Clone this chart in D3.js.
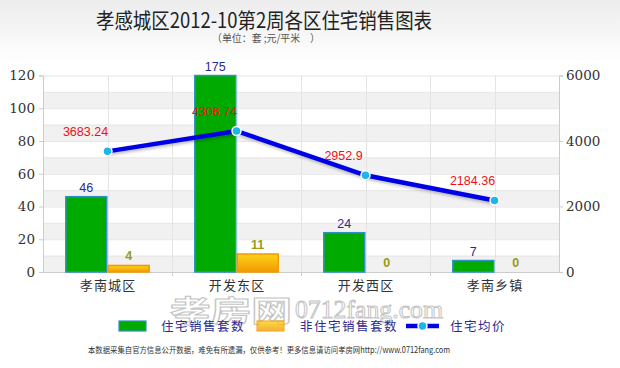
<!DOCTYPE html>
<html lang="zh">
<head>
<meta charset="utf-8">
<title>孝感城区住宅销售图表</title>
<script src="https://d3js.org/d3.v7.min.js"></script>
<style>
  html, body { margin: 0; padding: 0; background: #fff; }
  svg { display: block; }
</style>
</head>
<body>
<svg id="chart"></svg>
<script>
// data
const categories = ["孝南城区", "开发东区", "开发西区", "孝南乡镇"];
const residentialSets = [46, 175, 24, 7];
const nonResidentialSets = [4, 11, 0, 0];
const avgPrice = [3683.24, 4306.74, 2952.9, 2184.36];
const leftTicks = [0, 20, 40, 60, 80, 100, 120];
const rightTicks = [0, 2000, 4000, 6000];
const legendNames = ["住宅销售套数", "非住宅销售套数", "住宅均价"];

const W = 620, H = 368;
const margin = {top: 75.5, right: 61, bottom: 96, left: 43};
const cjk = "'Noto Sans CJK SC', sans-serif";
const serif = "'DejaVu Serif', serif";

const svg = d3.select("#chart").attr("width", W).attr("height", H);
const defs = svg.append("defs");

// header gradient
const hg = defs.append("linearGradient").attr("id", "hdr").attr("x1", 0).attr("y1", 0).attr("x2", 0).attr("y2", 1);
hg.append("stop").attr("offset", "0%").attr("stop-color", "#ececec");
hg.append("stop").attr("offset", "100%").attr("stop-color", "#ffffff");
svg.append("rect").attr("width", W).attr("height", 62).attr("fill", "url(#hdr)");

const og = defs.append("linearGradient").attr("id", "orange").attr("x1", 0).attr("y1", 0).attr("x2", 0).attr("y2", 1);
og.append("stop").attr("offset", "0%").attr("stop-color", "#ffd21a");
og.append("stop").attr("offset", "100%").attr("stop-color", "#f09a00");

const shadow = defs.append("filter").attr("id", "shadow").attr("x", "-10%").attr("y", "-30%").attr("width", "120%").attr("height", "160%");
shadow.append("feDropShadow").attr("dx", 1).attr("dy", 2).attr("stdDeviation", 1.5).attr("flood-color", "#000").attr("flood-opacity", 0.25);

// title
svg.append("text").attr("x", 264).attr("y", 28)
  .attr("text-anchor", "middle")
  .style("font-family", cjk).attr("font-size", 21).attr("fill", "#222")
  .attr("textLength", 336).attr("lengthAdjust", "spacingAndGlyphs")
  .text("孝感城区2012-10第2周各区住宅销售图表");
svg.append("text").attr("x", 266).attr("y", 42)
  .attr("text-anchor", "middle")
  .style("font-family", cjk).attr("font-size", 10.5).attr("fill", "#555")
  .attr("textLength", 108).attr("lengthAdjust", "spacingAndGlyphs")
  .text("（单位：套 ;元/平米　）");

// watermark (behind everything in the lower area)
const wm = svg.append("g").attr("fill", "#fff").attr("stroke", "#c4c4c4").attr("stroke-width", 1);
wm.append("text").attr("x", 170).attr("y", 322)
  .style("font-family", cjk).attr("font-size", 29).attr("font-weight", "bold")
  .attr("textLength", 122).attr("lengthAdjust", "spacingAndGlyphs")
  .text("孝房网");
wm.append("text").attr("x", 295).attr("y", 318)
  .style("font-family", "'Liberation Serif', serif").attr("font-size", 26)
  .attr("textLength", 148).attr("lengthAdjust", "spacingAndGlyphs")
  .text("0712fang.com");

const x0 = margin.left, x1 = W - margin.right;
const yTop = margin.top, yBot = H - margin.bottom;

const x = d3.scaleBand().domain(categories).range([x0, x1]).padding(0);
const yL = d3.scaleLinear().domain([0, 120]).range([yBot, yTop]).clamp(true);
const yR = d3.scaleLinear().domain([0, 6000]).range([yBot, yTop]);

// alternating bands
const bands = d3.range(0, 120, 20);
svg.append("g").selectAll("rect").data(bands).enter().append("rect")
  .attr("x", x0).attr("width", x1 - x0)
  .attr("y", d => yL(d + 10)).attr("height", d => yL(d) - yL(d + 10))
  .attr("fill", "#f1f1f1");
svg.append("g").selectAll("line").data(d3.range(10, 130, 10)).enter().append("line")
  .attr("x1", x0).attr("x2", x1)
  .attr("y1", d => yL(d) + 0.5).attr("y2", d => yL(d) + 0.5)
  .attr("stroke", "#e6e6e6");

// vertical grid at centres and boundaries
const vlines = [];
categories.forEach(c => { vlines.push(x(c) + x.bandwidth() / 2); if (x(c) > x0) vlines.push(x(c)); });
svg.append("g").selectAll("line").data(vlines).enter().append("line")
  .attr("x1", d => Math.round(d) + 0.5).attr("x2", d => Math.round(d) + 0.5)
  .attr("y1", yTop).attr("y2", yBot)
  .attr("stroke", "#e4e4e4");

// axes
const axL = svg.append("g").attr("transform", `translate(${x0},0)`)
  .call(d3.axisLeft(yL).tickValues(leftTicks).tickSize(4).tickPadding(4));
const axR = svg.append("g").attr("transform", `translate(${x1},0)`)
  .call(d3.axisRight(yR).tickValues(rightTicks).tickFormat(d3.format("d")).tickSize(4).tickPadding(3));
[axL, axR].forEach(a => {
  a.select(".domain").attr("stroke", "#ccc");
  a.selectAll(".tick line").attr("stroke", "#ccc");
  a.selectAll("text").style("font-family", serif).style("font-size", "13.5px").attr("fill", "#333");
});

const axB = svg.append("g").attr("transform", `translate(0,${yBot})`)
  .call(d3.axisBottom(x).tickSize(0).tickPadding(9));
axB.select(".domain").attr("stroke", "#ccc");
axB.selectAll("text").style("font-family", cjk).style("font-size", "13px").attr("fill", "#333")
  .attr("letter-spacing", 1.2).attr("dx", 0.6);
svg.append("g").selectAll("line").data(categories.slice(1)).enter().append("line")
  .attr("x1", d => Math.round(x(d)) + 0.5).attr("x2", d => Math.round(x(d)) + 0.5)
  .attr("y1", yBot).attr("y2", yBot + 4).attr("stroke", "#ccc");

// bars
const sub = d3.scaleBand().domain(["res", "non"]).range([0, x.bandwidth()]).paddingOuter(0.52).paddingInner(0);
const bars = svg.append("g");
bars.selectAll(".res").data(categories).enter().append("rect")
  .attr("x", c => x(c) + sub("res") + 0.75)
  .attr("width", sub.bandwidth() - 1.5)
  .attr("y", (c, i) => yL(residentialSets[i]))
  .attr("height", (c, i) => yBot - yL(residentialSets[i]))
  .attr("fill", "#00aa00").attr("stroke", "#2d8fc4").attr("stroke-width", 1.5);
bars.selectAll(".non").data(categories).enter().append("rect")
  .attr("x", c => x(c) + sub("non") + 0.75)
  .attr("width", sub.bandwidth() - 1.5)
  .attr("y", (c, i) => yL(nonResidentialSets[i]))
  .attr("height", (c, i) => yBot - yL(nonResidentialSets[i]))
  .attr("fill", "url(#orange)").attr("stroke", "#f29a00").attr("stroke-width", 1.5);

bars.selectAll(".rl").data(categories).enter().append("text")
  .attr("x", c => x(c) + sub("res") + sub.bandwidth() / 2)
  .attr("y", (c, i) => yL(residentialSets[i]) - 5)
  .attr("text-anchor", "middle").style("font-family", "'Liberation Sans', sans-serif")
  .attr("font-size", 12.5).attr("fill", "#2b2b8f")
  .text((c, i) => residentialSets[i]);
bars.selectAll(".nl").data(categories).enter().append("text")
  .attr("x", c => x(c) + sub("non") + sub.bandwidth() / 2)
  .attr("y", (c, i) => yL(nonResidentialSets[i]) - 5)
  .attr("text-anchor", "middle").style("font-family", "'Liberation Sans', sans-serif")
  .attr("font-size", 12.5).attr("font-weight", "bold").attr("fill", "#9a9a10")
  .text((c, i) => nonResidentialSets[i]);

// price line
const cx = c => x(c) + x.bandwidth() / 2;
const line = d3.line().x((c) => cx(c)).y((c, i) => yR(avgPrice[i]));
svg.append("path").datum(categories).attr("d", line)
  .attr("fill", "none").attr("stroke", "#0000e6").attr("stroke-width", 4.5)
  .attr("filter", "url(#shadow)");
svg.append("g").selectAll("circle").data(categories).enter().append("circle")
  .attr("cx", cx).attr("cy", (c, i) => yR(avgPrice[i]))
  .attr("r", 4.5).attr("fill", "#1eb6e8").attr("stroke", "#fff").attr("stroke-width", 1.5);
svg.append("g").selectAll("text").data(categories).enter().append("text")
  .attr("x", c => cx(c) - 22)
  .attr("y", (c, i) => yR(avgPrice[i]) - 15)
  .attr("text-anchor", "middle").style("font-family", "'Liberation Sans', sans-serif")
  .attr("font-size", 12.5).attr("fill", "#ee1111")
  .text((c, i) => avgPrice[i]);

// legend
const lg = svg.append("g").style("font-family", cjk).attr("font-size", 12.5).attr("fill", "#2b2b8f");
lg.append("rect").attr("x", 119).attr("y", 321).attr("width", 27).attr("height", 10)
  .attr("fill", "#00aa00").attr("stroke", "#2d8fc4").attr("stroke-width", 1.2);
lg.append("text").attr("x", 161).attr("y", 331).attr("letter-spacing", 1.5).text(legendNames[0]);
lg.append("rect").attr("x", 257).attr("y", 321).attr("width", 27).attr("height", 10)
  .attr("fill", "url(#orange)").attr("stroke", "#f29a00").attr("stroke-width", 1.2).attr("opacity", 0.8);
lg.append("text").attr("x", 300).attr("y", 331).attr("letter-spacing", 1.5).text(legendNames[1]);
lg.append("line").attr("x1", 406).attr("x2", 439).attr("y1", 326).attr("y2", 326)
  .attr("stroke", "#0000e6").attr("stroke-width", 4.5);
lg.append("circle").attr("cx", 422.5).attr("cy", 326).attr("r", 4.5)
  .attr("fill", "#1eb6e8").attr("stroke", "#fff").attr("stroke-width", 1.5);
lg.append("text").attr("x", 450).attr("y", 331).attr("letter-spacing", 1.5).text(legendNames[2]);

// footer
svg.append("text").attr("x", 88).attr("y", 353)
  .style("font-family", cjk).attr("font-size", 8.5).attr("fill", "#333")
  .attr("textLength", 362).attr("lengthAdjust", "spacingAndGlyphs")
  .text("本数据采集自官方信息公开数据，难免有所遗漏，仅供参考！更多信息请访问孝房网http://www.0712fang.com");
</script>
</body>
</html>
